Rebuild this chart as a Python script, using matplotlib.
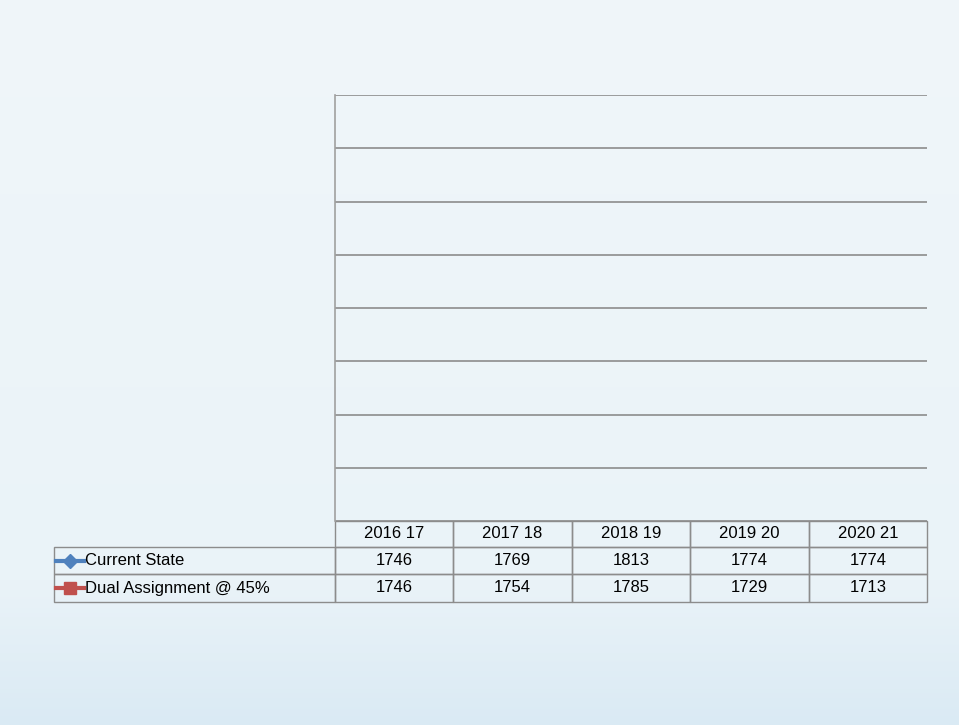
import matplotlib
matplotlib.use("Agg")
import matplotlib.pyplot as plt
import numpy as np
from matplotlib import font_manager
from matplotlib.table import Table

# ---- data ----
years = ["2016 17", "2017 18", "2018 19", "2019 20", "2020 21"]
series_names = ["Current State", "Dual Assignment @ 45%"]
current_state = [1746, 1769, 1813, 1774, 1774]
dual_assignment = [1746, 1754, 1785, 1729, 1713]
series_colors = ["#4F81BD", "#C0504D"]
series_markers = ["D", "s"]

avail = {f.name for f in font_manager.fontManager.ttflist}
main_font = "Liberation Sans Narrow" if "Liberation Sans Narrow" in avail else "Liberation Sans"
plt.rcParams["font.family"] = [main_font, "DejaVu Sans"]

W, H = 959, 725
fig = plt.figure(figsize=(W / 100, H / 100), dpi=100)
fig.patch.set_facecolor("#EEF5FA")

# background gradient (decorative)
bg = fig.add_axes([0, 0, 1, 1], zorder=-10)
grad = np.ones((H, 1, 3))
top = np.array([0xF0, 0xF6, 0xFA]) / 255
mid = np.array([0xEA, 0xF3, 0xF8]) / 255
bot = np.array([0xDA, 0xEA, 0xF4]) / 255
for i in range(H):
    t = i / H
    if t < 0.8:
        c = top + (mid - top) * (t / 0.8)
    else:
        c = mid + (bot - mid) * ((t - 0.8) / 0.2)
    grad[i, 0] = c
bg.imshow(grad, aspect="auto", extent=[0, 1, 0, 1], origin="upper")
bg.axis("off")

# plot area (pixel layout)
L, R, T, B = 335, 927, 95, 521
ax = fig.add_axes([L / W, 1 - B / H, (R - L) / W, (B - T) / H])
ax.set_facecolor("none")
x = np.arange(len(years))
for vals, col, mk in zip([current_state, dual_assignment], series_colors, series_markers):
    ax.plot(x, vals, color=col, marker=mk, lw=2.5, ms=7)
ax.set_xlim(-0.5, len(years) - 0.5)
ax.set_ylim(0, 1600)
ax.set_yticks(np.arange(0, 1601, 200))
ax.yaxis.grid(True, color="#8C8C8C", lw=1.2)
ax.set_axisbelow(True)
ax.tick_params(left=False, bottom=False, labelleft=False, labelbottom=False)
for s in ["top", "right", "bottom"]:
    ax.spines[s].set_visible(False)
ax.spines["left"].set_color("#A0A0A0")
ax.spines["left"].set_linewidth(1.2)

# ---- data table ----
axw, axh = R - L, B - T
label_w = 335 - 54
col_w = (R - L) / len(years)
row_h = [26, 27, 28]
total_h = sum(row_h)
tbl = Table(ax, bbox=[(54 - L) / axw, -total_h / axh, (R - 54) / axw, total_h / axh])
fs = 12
edge = "#8C8C8C"
rows = [[""] + years,
        [""] + [str(v) for v in current_state],
        [""] + [str(v) for v in dual_assignment]]
for r, row in enumerate(rows):
    for c, txt in enumerate(row):
        w = label_w if c == 0 else col_w
        cell = tbl.add_cell(r, c, w, row_h[r], text=txt, loc="center", facecolor="none", edgecolor=edge)
        cell.set_linewidth(1.0)
        cell.get_text().set_fontsize(fs)
        if r == 0 and c == 0:
            cell.visible_edges = ""
tbl.auto_set_font_size(False)
ax.add_table(tbl)

# legend keys + labels in row-label cells
y_rows = [-(row_h[0] + row_h[1] / 2) / axh, -(row_h[0] + row_h[1] + row_h[2] / 2) / axh]
for name, col, mk, yy in zip(series_names, series_colors, series_markers, y_rows):
    x0, x1 = (56 - L) / axw, (84 - L) / axw
    ax.plot([x0, x1], [yy, yy], transform=ax.transAxes, color=col, lw=3, clip_on=False)
    ax.plot([(x0 + x1) / 2], [yy], transform=ax.transAxes, color=col, marker=mk,
            ms=7.5 if mk == "D" else 8, clip_on=False)
    ax.text((85 - L) / axw, yy, name, transform=ax.transAxes, ha="left", va="center",
            fontsize=fs, color="black")

fig.savefig("out.png", dpi=100, facecolor=fig.get_facecolor())
